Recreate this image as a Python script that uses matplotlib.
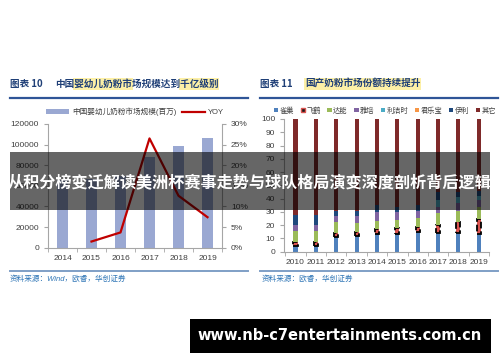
import matplotlib
matplotlib.use('Agg')
import matplotlib.pyplot as plt
from matplotlib.patches import Rectangle, Patch
from matplotlib.lines import Line2D
import numpy as np

plt.rcParams['font.family'] = ['Liberation Sans', 'Noto Sans CJK SC', 'DejaVu Sans']

# 图表10 数据
years_l = ['2014', '2015', '2016', '2017', '2018', '2019']
market_size = [66000, 67000, 69500, 88000, 99000, 106500]   # 百万
yoy = [1.5, 3.7, 26.5, 12.6, 7.4]                            # % (2015-2019)

# 图表11 数据 (%)
years_r = ['2010', '2011', '2012', '2013', '2014', '2015', '2016', '2017', '2018', '2019']
brands = ['雀巢', '飞鹤', '达能', '雅培', '利洁时', '君乐宝', '伊利', '其它']
nestle = [4, 4, 11, 11.5, 13, 13.5, 14.5, 14, 14, 13.5]
feihe = [3.5, 3.5, 3, 3.5, 4, 4, 4, 6, 8.5, 11.5]
danone = [8, 8, 8.5, 7, 6.5, 6.5, 7, 9, 8.5, 9]
abbott = [4.5, 4.5, 4.5, 5, 6.5, 6, 5.5, 5, 6, 5]
reckitt = [0, 0, 0, 0, 0, 0, 0, 5, 4, 3]
junlebao = [0, 0, 0, 0, 0, 0, 0, 0, 0, 0]
yili = [8, 8, 4, 4, 5, 4, 4, 6, 4, 4]
others = [72, 72, 69, 69, 65, 66, 65, 55, 55, 54]
colors = ['#4f81bd', '#d9534f', '#9bbb59', '#8064a2', '#4bacc6', '#f79646', '#1f497d', '#7f2a2a']

W, H = 500, 362
def fx(px):
    return px / W
def fy(py):
    return 1 - py / H

title_blue = '#1f3f77'
grey = '#404040'
spine_c = '#a6a6a6'

fig = plt.figure(figsize=(5, 3.62), dpi=100)
fig.patch.set_facecolor('white')

# ---------- 标题 ----------
fs_title = 6.9
cw = fs_title * 100 / 72   # 每个汉字宽度(像素)

def title(x0, x_txt, num, txt, hl):
    for a, b in hl:
        fig.add_artist(Rectangle((fx(x_txt + a * cw - 1), fy(90)), (b - a) * cw / W + 2 / W, 12 / H,
                                 transform=fig.transFigure, facecolor='#fdf0a6', lw=0))
    fig.text(fx(x0), fy(84), num, color=title_blue, fontsize=fs_title, fontweight='bold',
             va='center', family=['Noto Sans CJK SC'])
    fig.text(fx(x_txt), fy(84), txt, color=title_blue, fontsize=fs_title, fontweight='bold',
             va='center', family=['Noto Sans CJK SC'])

title(10, 55, '图表 10', '中国婴幼儿奶粉市场规模达到千亿级别', [(2, 8), (13, 17)])
title(260, 305, '图表 11', '国产奶粉市场份额持续提升', [(0, 12)])

for xa, xb in [(10, 248), (260, 498)]:
    fig.add_artist(Line2D([fx(xa), fx(xb)], [fy(97.5)] * 2, color='#2f5597', lw=1.6))
    fig.add_artist(Line2D([fx(xa), fx(xb)], [fy(271)] * 2, color='#7f9fc6', lw=1.4))

fig.text(fx(10), fy(279), '资料来源：Wind，欧睿，华创证券', style='italic', color='#2e75b6',
         fontsize=5.5, va='center')
fig.text(fx(262), fy(279), '资料来源：欧睿，华创证券', style='italic', color='#2e75b6',
         fontsize=5.5, va='center')

# ---------- 图表10 ----------
ax1 = fig.add_axes([fx(48), fy(247.7), (222 - 48) / W, (247.7 - 124) / H])
x = np.arange(len(years_l))
bars = ax1.bar(x, market_size, width=0.35, color='#9aa8d2', zorder=2)
ax1.set_xlim(-0.5, len(years_l) - 0.5)
ax1.set_ylim(0, 120000)
ax1.set_yticks(range(0, 120001, 20000))
ax1.set_xticks(x)
ax1.set_xticklabels(years_l)
ax1.set_xticks(np.arange(-0.5, len(years_l)), minor=True)
ax1.tick_params(axis='x', which='major', length=0, labelsize=6, colors=grey, pad=5)
ax1.tick_params(axis='x', which='minor', length=3, color=spine_c)
ax1.tick_params(axis='y', length=3, color=spine_c, labelsize=6, labelcolor=grey)

ax1b = ax1.twinx()
line, = ax1b.plot(x[1:], yoy, color='#c00000', lw=1.6)
ax1b.set_ylim(0, 30)
ax1b.set_yticks(range(0, 31, 5))
ax1b.yaxis.set_major_formatter(lambda v, p: f'{v:.0f}%')
ax1b.tick_params(axis='y', length=3, color=spine_c, labelsize=6, labelcolor=grey)

for s in ['top', 'right']:
    ax1.spines[s].set_visible(False)
for s in ['top', 'left', 'bottom']:
    ax1b.spines[s].set_visible(False)
ax1.spines['left'].set_color(spine_c)
ax1.spines['bottom'].set_color(spine_c)
ax1b.spines['right'].set_color(spine_c)

ax1.legend([bars, line], ['中国婴幼儿奶粉市场规模(百万)', 'YOY'], loc='center',
           bbox_to_anchor=(fx(135), fy(112)), bbox_transform=fig.transFigure, ncol=2,
           frameon=False, fontsize=5.5, handlelength=3.0, handleheight=0.5,
           columnspacing=0.8, handletextpad=0.4, labelcolor=grey)

# ---------- 图表11 ----------
ax2 = fig.add_axes([fx(284.3), fy(251.7), (489 - 284.3) / W, (251.7 - 119) / H])
xr = np.arange(len(years_r))
bottom = np.zeros(len(years_r))
handles = []
for name, vals, c in zip(brands, [nestle, feihe, danone, abbott, reckitt, junlebao, yili, others], colors):
    if name == '飞鹤':
        b = ax2.bar(xr, vals, bottom=bottom, width=0.2, color=c, edgecolor='black',
                    linewidth=1.3, linestyle='--', zorder=2)
    else:
        b = ax2.bar(xr, vals, bottom=bottom, width=0.2, color=c, zorder=2)
    handles.append(b)
    bottom += np.array(vals)

ax2.set_xlim(-0.55, len(years_r) - 0.5)
ax2.set_ylim(0, 100)
ax2.set_yticks(range(0, 101, 10))
ax2.set_xticks(xr)
ax2.set_xticklabels(years_r)
ax2.set_xticks(np.arange(-0.5, len(years_r)), minor=True)
ax2.tick_params(axis='x', which='major', length=0, labelsize=6, colors=grey, pad=5)
ax2.tick_params(axis='x', which='minor', length=3, color=spine_c)
ax2.tick_params(axis='y', length=3, color=spine_c, labelsize=6, labelcolor=grey)
for s in ['top', 'right']:
    ax2.spines[s].set_visible(False)
ax2.spines['left'].set_color(spine_c)
ax2.spines['bottom'].set_color(spine_c)

leg_h = [Patch(facecolor=c) for c in colors]
leg_h[1] = Patch(facecolor='#1a1a1a', edgecolor='#d9534f')
ax2.legend(leg_h, brands, loc='center', bbox_to_anchor=(fx(385), fy(111)),
           bbox_transform=fig.transFigure, ncol=8, frameon=False, fontsize=5.2,
           handlelength=0.6, handleheight=0.6, columnspacing=0.9, handletextpad=0.2,
           labelcolor=grey)

# ---------- 横幅 ----------
fig.add_artist(Rectangle((fx(10), fy(210)), (490 - 10) / W, (210 - 152) / H,
                         transform=fig.transFigure, facecolor='black', alpha=0.6, lw=0, zorder=10))
fig.text(fx(250), fy(182), '从积分榜变迁解读美洲杯赛事走势与球队格局演变深度剖析背后逻辑',
         color='white', fontsize=11.6, fontweight='bold', ha='center', va='center', zorder=11,
         family=['Noto Sans CJK SC'])

fig.add_artist(Rectangle((fx(190), fy(353)), (491 - 190) / W, (353 - 319) / H,
                         transform=fig.transFigure, facecolor='black', lw=0, zorder=10))
fig.text(fx(340), fy(336), 'www.nb-c7entertainments.com.cn', color='white', fontsize=10.5,
         fontweight='bold', ha='center', va='center', zorder=11, family=['DejaVu Sans'])

fig.savefig('out.png', dpi=100)
